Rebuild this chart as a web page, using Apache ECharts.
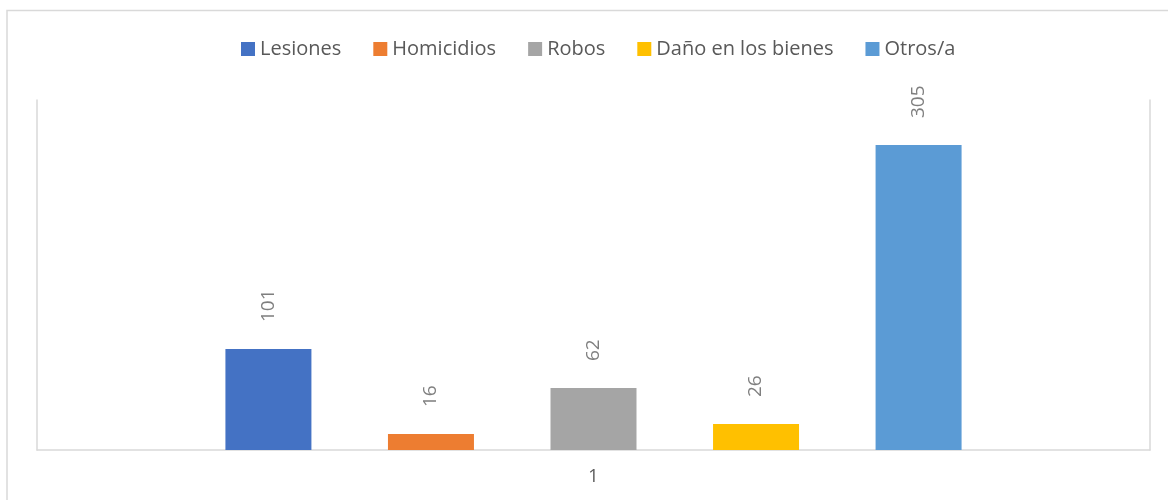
<!DOCTYPE html>
<html>
<head>
<meta charset="utf-8">
<script src="https://cdn.jsdelivr.net/npm/echarts@6/dist/echarts.min.js"></script>
<style>
html,body{margin:0;padding:0;background:#fff;}
#c{width:1168px;height:500px;}
</style>
</head>
<body>
<div id="c"></div>
<script>
const categories = ['1'];
const seriesNames = ['Lesiones', 'Homicidios', 'Robos', 'Daño en los bienes', 'Otros/a'];
const seriesValues = [101, 16, 62, 26, 305];

const palette = ['#4472C4', '#ED7D31', '#A5A5A5', '#FFC000', '#5B9BD5'];
const FONT = '"Open Sans", "Liberation Sans", sans-serif';

const chart = echarts.init(document.getElementById('c'), null, {renderer: 'canvas'});

const series = seriesNames.map((name, i) => ({
  name: name,
  type: 'bar',
  yAxisIndex: 0,
  data: [seriesValues[i]],
  barWidth: 86,
  barGap: '89%',
  itemStyle: {color: palette[i]},
  label: {
    show: true,
    position: 'top',
    rotate: 90,
    align: 'left',
    verticalAlign: 'middle',
    distance: 27,
    fontFamily: FONT,
    fontSize: 19,
    color: '#7F7F7F'
  },
  emphasis: {disabled: true}
}));

chart.setOption({
  animation: false,
  color: palette,
  graphic: [{
    type: 'rect',
    shape: {x: 7, y: 10.5, width: 1300, height: 700},
    style: {fill: 'none', stroke: '#D9D9D9', lineWidth: 1.5},
    silent: true,
    z: -10
  }],
  legend: {
    left: 236,
    top: 34,
    itemWidth: 14,
    itemHeight: 14,
    itemGap: 32,
    icon: 'rect',
    textStyle: {fontFamily: FONT, fontSize: 20, color: '#595959', lineHeight: 20},
    data: seriesNames
  },
  grid: {left: 37, right: 18, top: 100, bottom: 50, containLabel: false},
  xAxis: {
    type: 'category',
    data: categories,
    axisTick: {show: false},
    axisLine: {show: true, lineStyle: {color: '#D9D9D9', width: 1.5}},
    axisLabel: {fontFamily: FONT, fontSize: 18, color: '#595959', margin: 18}
  },
  yAxis: [{
    type: 'value',
    min: 0,
    max: 350,
    interval: 50,
    axisLabel: {show: false},
    axisTick: {show: false},
    splitLine: {show: false},
    axisLine: {show: true, lineStyle: {color: '#D9D9D9', width: 1.5}}
  }, {
    type: 'value',
    position: 'right',
    min: 0,
    max: 350,
    interval: 50,
    axisLabel: {show: false},
    axisTick: {show: false},
    splitLine: {show: false},
    axisLine: {show: true, lineStyle: {color: '#D9D9D9', width: 1.5}}
  }],
  series: series
});
</script>
</body>
</html>
